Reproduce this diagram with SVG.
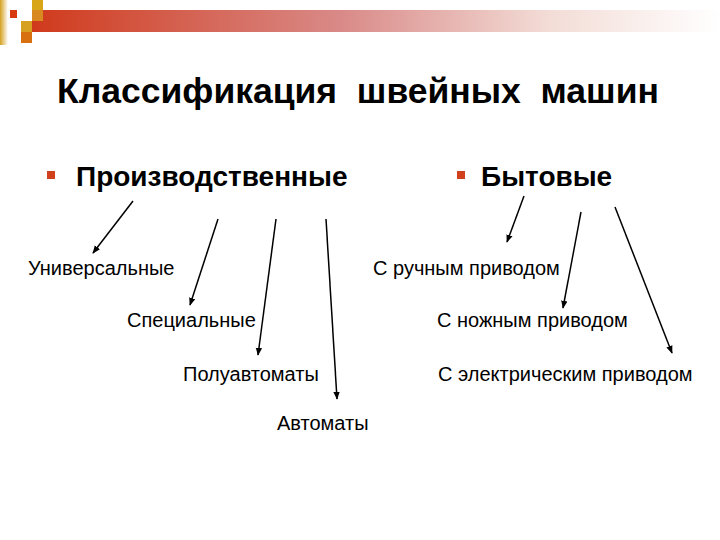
<svg xmlns="http://www.w3.org/2000/svg" width="720" height="540" viewBox="0 0 720 540">
<defs>
<linearGradient id="bar" x1="0" y1="0" x2="1" y2="0">
<stop offset="0" stop-color="#d03a1c"/>
<stop offset="0.45" stop-color="#d98a88"/>
<stop offset="0.75" stop-color="#f3dcd6"/>
<stop offset="1" stop-color="#ffffff"/>
</linearGradient>
<linearGradient id="gold" x1="0" y1="0" x2="1" y2="0">
<stop offset="0" stop-color="#d4a020"/>
<stop offset="1" stop-color="#ffffff"/>
</linearGradient>
<marker id="ah" viewBox="0 0 10 10" refX="9" refY="5" markerWidth="8" markerHeight="8" markerUnits="userSpaceOnUse" orient="auto">
<path d="M0,1 L10,5 L0,9 z" fill="#000"/>
</marker>
<style>
.title{font-family:"Liberation Sans",Arial,sans-serif;font-weight:bold;font-size:35.5px;fill:#000}
.head{font-family:"Liberation Sans",Arial,sans-serif;font-weight:bold;font-size:28px;fill:#000}
.lbl{font-family:"Liberation Sans",Arial,sans-serif;font-size:20px;fill:#000}
.bul{fill:#d0401c}
.conn line{stroke:#000;stroke-width:1.5;marker-end:url(#ah)}
</style>
</defs>
<rect width="720" height="540" fill="#fff"/>
<g id="decor">
<rect x="32" y="10" width="688" height="22" fill="url(#bar)"/>
<rect x="0" y="0" width="8" height="45" fill="url(#gold)"/>
<rect x="32" y="0" width="11" height="11" fill="#d8a418"/>
<rect x="32" y="10" width="11" height="11" fill="#d88a20"/>
<rect x="10" y="10" width="7" height="8" fill="#d83a10"/>
<rect x="21" y="21" width="11" height="11" fill="#d8a020"/>
<rect x="21" y="32" width="11" height="11" fill="#d87010"/>
</g>
<g id="title"><text class="title" x="358" y="103" text-anchor="middle" xml:space="preserve">Классификация  швейных  машин</text></g>
<g id="n-prod"><rect class="bul" x="47" y="171" width="8" height="8"/><text class="head" x="76" y="186">Производственные</text></g>
<g id="n-byt"><rect class="bul" x="457" y="171" width="8" height="8"/><text class="head" x="481" y="186">Бытовые</text></g>
<g id="n-univ"><text class="lbl" x="28" y="275">Универсальные</text></g>
<g id="n-spec"><text class="lbl" x="127" y="327">Специальные</text></g>
<g id="n-semi"><text class="lbl" x="183" y="381">Полуавтоматы</text></g>
<g id="n-auto"><text class="lbl" x="277" y="430">Автоматы</text></g>
<g id="n-hand"><text class="lbl" x="373" y="275">С ручным приводом</text></g>
<g id="n-foot"><text class="lbl" x="437" y="327">С ножным приводом</text></g>
<g id="n-elec"><text class="lbl" x="438" y="381">С электрическим приводом</text></g>
<g id="connectors" class="conn">
<line x1="133" y1="201" x2="93" y2="253"/>
<line x1="218" y1="219" x2="190" y2="305"/>
<line x1="276" y1="219" x2="258" y2="355"/>
<line x1="326" y1="219" x2="337" y2="399"/>
<line x1="524" y1="196" x2="507" y2="242"/>
<line x1="581" y1="212" x2="563" y2="308"/>
<line x1="615" y1="207" x2="672" y2="353"/>
</g>
</svg>
